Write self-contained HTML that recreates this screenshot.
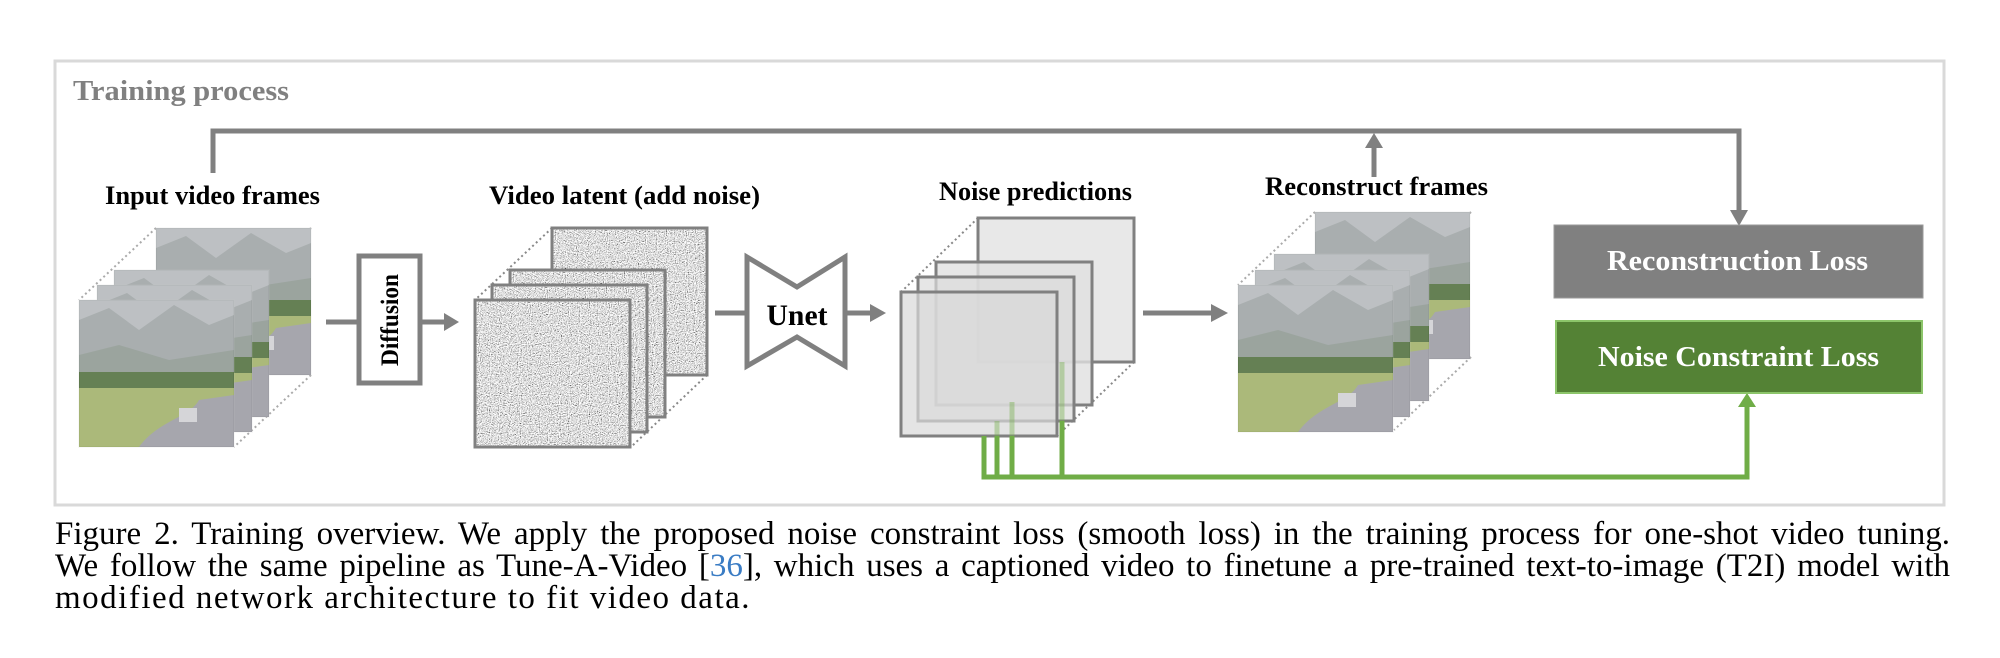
<!DOCTYPE html>
<html><head><meta charset="utf-8"><style>
html,body{margin:0;padding:0;background:#fff;width:2000px;height:658px;overflow:hidden}
.cap{position:absolute;left:55px;width:1895px;font-family:"Liberation Serif",serif;font-size:33px;color:#000;line-height:35px;text-align:justify;text-align-last:justify;white-space:nowrap}
.cap span{color:#3a7cc4}
</style></head><body>
<svg width="2000" height="658" viewBox="0 0 2000 658" xmlns="http://www.w3.org/2000/svg" style="position:absolute;left:0;top:0">
<defs>
<filter id="noise" x="0" y="0" width="100%" height="100%">
<feTurbulence type="fractalNoise" baseFrequency="0.9" numOctaves="2" seed="3" result="t"/>
<feColorMatrix type="saturate" values="0" in="t" result="g"/>
<feComponentTransfer in="g"><feFuncR type="linear" slope="3" intercept="-0.75"/><feFuncG type="linear" slope="3" intercept="-0.75"/><feFuncB type="linear" slope="3" intercept="-0.75"/><feFuncA type="linear" slope="0" intercept="1"/></feComponentTransfer>
</filter>
<clipPath id="fc"><rect x="0" y="0" width="155" height="147"/></clipPath>
<g id="photo">
<g clip-path="url(#fc)">
<rect x="0" y="0" width="155" height="147" fill="#b4b8bb"/>
<path d="M0 20 L30 8 L60 30 L95 5 L130 25 L155 15 L155 70 L0 70Z" fill="#9da3a4"/>
<path d="M0 55 L40 45 L90 60 L155 50 L155 80 L0 80Z" fill="#8d9891"/>
<rect x="0" y="72" width="155" height="18" fill="#4f6e3c"/>
<rect x="0" y="88" width="155" height="59" fill="#9fb068"/>
<path d="M60 147 C80 120 110 118 120 100 L155 95 L155 147Z" fill="#9a9aa2"/>
<rect x="100" y="108" width="18" height="14" fill="#cfd0d3"/>
</g>
<rect x="0" y="0" width="155" height="147" fill="#fff" opacity="0.12" stroke="#c9c9c9" stroke-width="2"/>
</g>
<g id="nz">
<rect x="0" y="0" width="155" height="147" fill="#c8c8c8" filter="url(#noise)"/>
<rect x="0" y="0" width="155" height="147" fill="none" stroke="#808080" stroke-width="3"/>
</g>
</defs>

<rect x="55" y="61" width="1889" height="444" fill="#fff" stroke="#d9d9d9" stroke-width="3"/>
<text x="73" y="100" font-family="Liberation Serif, serif" font-weight="bold" font-size="29" fill="#808080" textLength="216" lengthAdjust="spacingAndGlyphs">Training process</text>

<g stroke="#808080" stroke-width="5" fill="none">
<polyline points="213,173 213,131 1739,131 1739,212"/>
<line x1="1374" y1="177" x2="1374" y2="146"/>
<line x1="326" y1="322" x2="357" y2="322"/>
<line x1="422" y1="322" x2="446" y2="322"/>
<line x1="715" y1="313" x2="747" y2="313"/>
<line x1="846" y1="313" x2="872" y2="313"/>
<line x1="1143" y1="313" x2="1213" y2="313"/>
</g>
<g fill="#808080">
<polygon points="1730,210 1748,210 1739,226"/>
<polygon points="1365,148 1383,148 1374,133"/>
<polygon points="444,313 444,331 459,322"/>
<polygon points="870,304 870,322 886,313"/>
<polygon points="1211,304 1211,322 1228,313"/>
</g>

<g font-family="Liberation Serif, serif" font-weight="bold" font-size="26" fill="#000">
<text x="105" y="204" textLength="215" lengthAdjust="spacingAndGlyphs">Input video frames</text>
<text x="489" y="204" textLength="271" lengthAdjust="spacingAndGlyphs">Video latent (add noise)</text>
<text x="939" y="200" textLength="193" lengthAdjust="spacingAndGlyphs">Noise predictions</text>
<text x="1265" y="195" textLength="223" lengthAdjust="spacingAndGlyphs">Reconstruct frames</text>
</g>

<g stroke="#aaa" stroke-width="2" stroke-dasharray="2,3" fill="none">
<line x1="156" y1="228" x2="79" y2="300"/><line x1="311" y1="228" x2="234" y2="300"/><line x1="311" y1="375" x2="234" y2="447"/>
</g>
<use href="#photo" x="156" y="228"/>
<use href="#photo" x="114" y="270"/>
<use href="#photo" x="97" y="285"/>
<use href="#photo" x="79" y="300"/>

<rect x="359" y="256" width="61" height="127" fill="#fff" stroke="#808080" stroke-width="5"/>
<text transform="translate(398,320) rotate(-90)" text-anchor="middle" font-family="Liberation Serif, serif" font-weight="bold" font-size="25" textLength="92" lengthAdjust="spacingAndGlyphs">Diffusion</text>

<g stroke="#888" stroke-width="2" stroke-dasharray="2,3" fill="none">
<line x1="552" y1="228" x2="475" y2="300"/><line x1="707" y1="228" x2="631" y2="300"/><line x1="707" y1="375" x2="631" y2="447"/>
</g>
<use href="#nz" x="552" y="228"/>
<use href="#nz" x="510" y="270"/>
<use href="#nz" x="492" y="285"/>
<use href="#nz" x="475" y="300"/>

<polygon points="747,257 797,287 845,257 845,366 797,337 747,366" fill="#fff" stroke="#808080" stroke-width="5"/>
<text x="797" y="325" text-anchor="middle" font-family="Liberation Serif, serif" font-weight="bold" font-size="30" textLength="61" lengthAdjust="spacingAndGlyphs">Unet</text>

<g stroke="#888" stroke-width="2" stroke-dasharray="2,3" fill="none">
<line x1="978" y1="218" x2="901" y2="292"/><line x1="1134" y1="218" x2="1057" y2="292"/><line x1="1134" y1="362" x2="1057" y2="436"/>
</g>
<g stroke="#808080" stroke-width="3">
<rect x="978" y="218" width="156" height="144" fill="#e8e8e8"/>
<rect x="936" y="262" width="156" height="143" fill="#e0e0e0" fill-opacity="0.8"/>
<rect x="918" y="277" width="156" height="144" fill="#dcdcdc" fill-opacity="0.7"/>
<rect x="901" y="292" width="156" height="144" fill="#d8d8d8" fill-opacity="0.7"/>
</g>
<g stroke="#70ad47" stroke-width="5" fill="none">
<line x1="997" y1="421" x2="997" y2="436" opacity="0.4"/>
<line x1="1012" y1="402" x2="1012" y2="436" opacity="0.4"/>
<line x1="1062" y1="362" x2="1062" y2="421" opacity="0.4"/>
<polyline points="984,436 984,477 1747,477 1747,406"/>
<line x1="997" y1="436" x2="997" y2="477"/>
<line x1="1012" y1="436" x2="1012" y2="477"/>
<line x1="1062" y1="421" x2="1062" y2="477"/>
</g>
<polygon points="1738,407 1756,407 1747,393" fill="#70ad47"/>

<g stroke="#aaa" stroke-width="2" stroke-dasharray="2,3" fill="none">
<line x1="1315" y1="212" x2="1238" y2="285"/><line x1="1471" y1="212" x2="1394" y2="285"/><line x1="1471" y1="357" x2="1394" y2="430"/>
</g>
<use href="#photo" x="1315" y="212"/>
<use href="#photo" x="1274" y="254"/>
<use href="#photo" x="1255" y="270"/>
<use href="#photo" x="1238" y="285"/>

<rect x="1554" y="225" width="369" height="73" fill="#808080" stroke="#9a9a9a" stroke-width="1"/>
<text x="1607" y="270" font-family="Liberation Serif, serif" font-weight="bold" font-size="29" fill="#fff" textLength="261" lengthAdjust="spacingAndGlyphs">Reconstruction Loss</text>
<rect x="1556" y="321" width="366" height="72" fill="#548235" stroke="#8cc56a" stroke-width="2"/>
<text x="1598" y="366" font-family="Liberation Serif, serif" font-weight="bold" font-size="29" fill="#fff" textLength="281" lengthAdjust="spacingAndGlyphs">Noise Constraint Loss</text>
</svg>
<div class="cap" style="top:517px">Figure 2. Training overview. We apply the proposed noise constraint loss (smooth loss) in the training process for one-shot video tuning.</div>
<div class="cap" style="top:549px">We follow the same pipeline as Tune-A-Video [<span>36</span>], which uses a captioned video to finetune a pre-trained text-to-image (T2I) model with</div>
<div class="cap" style="top:581px;text-align-last:left;width:auto;letter-spacing:1.5px">modified network architecture to fit video data.</div>
</body></html>
